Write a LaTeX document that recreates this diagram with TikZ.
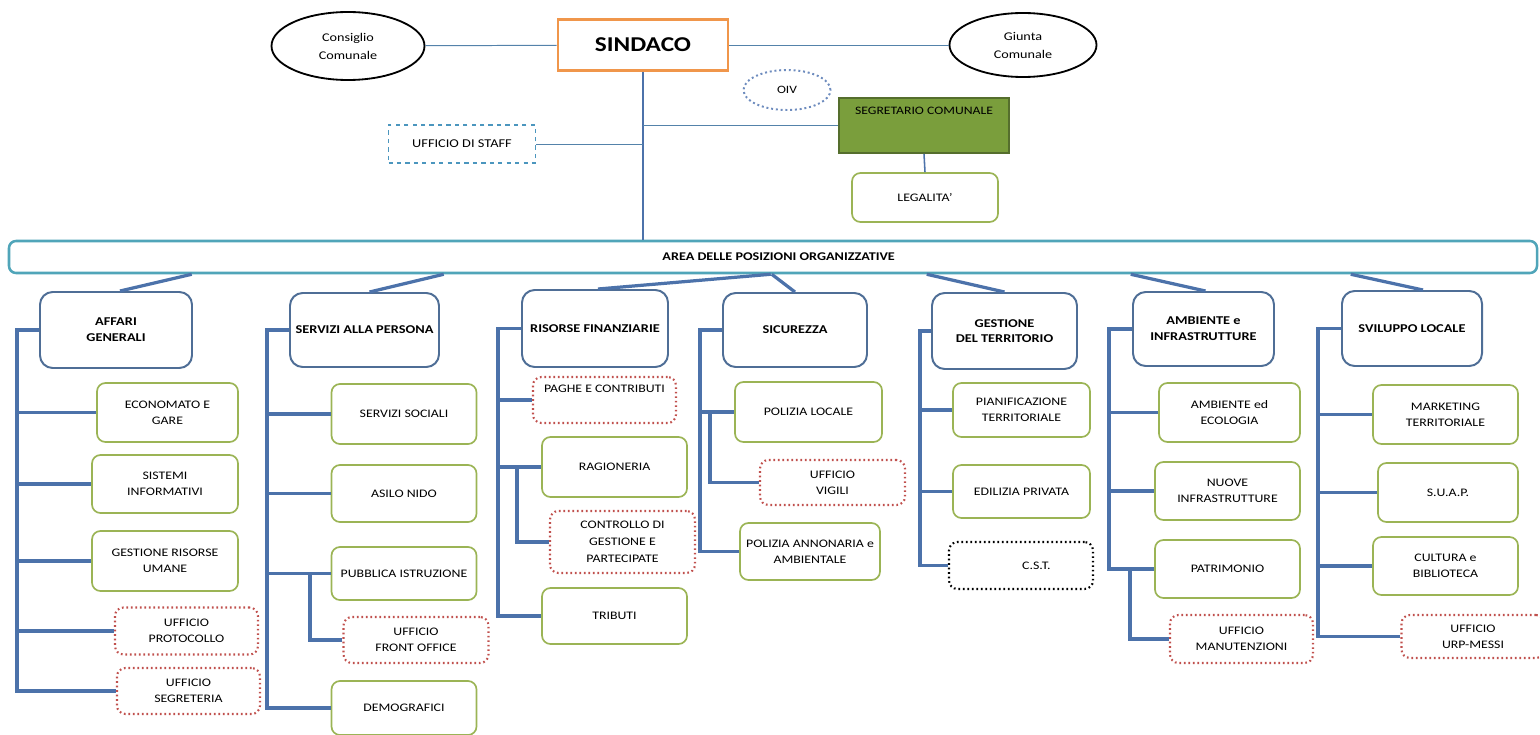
\documentclass[tikz,border=0pt]{standalone}
\usepackage{fontspec}
\setmainfont{Carlito}[FakeStretch=1.2]
\usetikzlibrary{shapes.geometric,calc}

\definecolor{hdrblue}{RGB}{79,110,150}
\definecolor{linkblue}{RGB}{76,114,170}
\definecolor{topblue}{RGB}{84,130,170}
\definecolor{unitgreen}{RGB}{155,180,85}
\definecolor{dotred}{RGB}{192,80,77}
\definecolor{barteal}{RGB}{80,165,185}
\definecolor{sindorange}{RGB}{240,150,75}
\definecolor{segrfill}{RGB}{122,158,60}
\definecolor{segrline}{RGB}{85,110,45}
\definecolor{oivblue}{RGB}{110,140,190}
\definecolor{staffblue}{RGB}{75,150,190}

\tikzset{
  sz/.style 2 args={minimum width=#1*0.025cm, minimum height=#2*0.025cm},
  organ/.style={ellipse, draw=black, line width=1.3pt, align=center, inner sep=0pt,
    font=\fontsize{8.4}{12.8}\selectfont},
  hdr/.style={draw=hdrblue, line width=1.4pt, rounded corners=9pt, align=center,
    inner sep=1pt, font=\fontsize{8.5}{11.2}\selectfont\bfseries},
  unit/.style={draw=unitgreen, line width=1.2pt, rounded corners=6pt, align=center,
    inner sep=1pt, font=\fontsize{8.2}{11.5}\selectfont},
  office/.style={unit, draw=dotred, dotted, line width=1.5pt},
  trunk/.style={draw=linkblue, line width=2.3pt},
  thin/.style={draw=topblue, line width=0.7pt},
  stem/.style={draw=linkblue, line width=1.1pt},
}

\begin{document}
\begin{tikzpicture}[x=0.025cm, y=-0.025cm]
    \useasboundingbox (0,0) rectangle (1540,735);

    % vertice
    \node[organ, sz={153}{68}] at (348,46)(cons){Consiglio\\Comunale};
    \node[draw=sindorange, line width=2pt, sz={170}{51}, font=\fontsize{15}{18}\selectfont\bfseries] at (643,45)(sind){SINDACO};
    \node[organ, sz={147}{64}] at (1023,45)(giun){Giunta\\Comunale};
    \node[ellipse, draw=oivblue, dotted, line width=1.4pt, sz={87}{40}, inner sep=0pt, font=\fontsize{8}{9}\selectfont] at (787,90)(oiv){OIV};
    \node[draw=staffblue, dashed, line width=1.3pt, sz={147}{38}, font=\fontsize{8.5}{10}\selectfont] at (462,144)(staff){UFFICIO DI STAFF};
    \node[fill=segrfill, draw=segrline, line width=1.2pt, sz={170}{55},
      label={[anchor=north, inner sep=0pt, yshift=-7pt, font=\fontsize{8.1}{9}\selectfont]north:SEGRETARIO COMUNALE}] at (924,125.5)(segr){};
    \node[unit, sz={146}{49}] at (925,197.5)(legal){LEGALITA'};
    \node[draw=barteal, line width=1.8pt, rounded corners=5pt, sz={1528}{32}, font=\fontsize{8.4}{10}\selectfont\bfseries] at (773,257)(bar){\hspace*{8pt}AREA DELLE  POSIZIONI ORGANIZZATIVE};

    \draw[thin] (cons) -- (sind);
    \draw[thin] (sind) -- (giun);
    \draw[stem] (sind.south) -- (sind.south |- bar.north);
    \draw[thin] (staff.east) -- (staff.east -| sind.south);
    \draw[thin] (segr.west -| sind.south) -- (segr.west);
    \draw[stem] (segr.south) -- (legal.north);

    % aree
    \node[hdr, sz={152}{76}] at (116,330)(ag){AFFARI\\GENERALI};
    \node[hdr, sz={149}{74}] at (364.5,330)(sp){SERVIZI ALLA PERSONA};
    \node[hdr, sz={146}{77}] at (595,328.5)(rf){RISORSE FINANZIARIE};
    \node[hdr, sz={144}{74}] at (795,330)(sic){SICUREZZA};
    \node[hdr, sz={145}{76}] at (1004.5,331)(gt){GESTIONE\\DEL TERRITORIO};
    \node[hdr, sz={141}{74}] at (1203.5,329)(ai){AMBIENTE e\\INFRASTRUTTURE};
    \node[hdr, sz={140}{75}] at (1412,328.5)(sl){SVILUPPO LOCALE};

    \draw[trunk] ($(bar.south west)+(184,0)$) -- ($(ag.north)+(4,0)$);
    \draw[trunk] ($(bar.south west)+(436,0)$) -- ($(sp.north)+(5,0)$);
    \draw[trunk] ($(bar.south west)+(763,0)$) -- ($(rf.north)+(3,0)$);
    \draw[trunk] ($(bar.south west)+(764,0)$) -- (sic.north);
    \draw[trunk] ($(bar.south west)+(919,0)$) -- (gt.north);
    \draw[trunk] ($(bar.south west)+(1123,0)$) -- ($(ai.north)+(2,0)$);
    \draw[trunk] ($(bar.south west)+(1343,0)$) -- ($(sl.north)+(11,0)$);

    % affari generali
    \node[unit, sz={141}{59}] at (167.5,412.5)(ag1){ECONOMATO E\\GARE};
    \node[unit, sz={146}{58}] at (165,484)(ag2){SISTEMI\\INFORMATIVI};
    \node[unit, sz={146}{60}] at (165,561)(ag3){GESTIONE RISORSE\\UMANE};
    \node[office, sz={143}{47}] at (186.5,631)(ag4){UFFICIO\\PROTOCOLLO};
    \node[office, sz={143}{46}] at (188.5,691)(ag5){UFFICIO\\SEGRETERIA};
    \coordinate (t1) at (17,330);
    \draw[trunk] (ag.west) -- (t1) |- (ag5.west);
    \draw[trunk] (t1 |- ag1.west) -- (ag1.west);
    \draw[trunk] (t1 |- ag2.west) -- (ag2.west);
    \draw[trunk] (t1 |- ag3.west) -- (ag3.west);
    \draw[trunk] (t1 |- ag4.west) -- (ag4.west);

    % servizi alla persona
    \node[unit, sz={145}{60}] at (404,414)(sp1){SERVIZI SOCIALI};
    \node[unit, sz={145}{57}] at (404,493.5)(sp2){ASILO NIDO};
    \node[unit, sz={145}{53}] at (404,573.5)(sp3){PUBBLICA  ISTRUZIONE};
    \node[office, sz={145}{46}] at (416,640)(sp4){UFFICIO\\FRONT OFFICE};
    \node[unit, sz={145}{54}] at (404,708)(sp5){DEMOGRAFICI};
    \coordinate (t2) at (267,330);
    \coordinate (u2) at (310,573.5);
    \draw[trunk] (sp.west) -- (t2) |- (sp5.west);
    \draw[trunk] (t2 |- sp1.west) -- (sp1.west);
    \draw[trunk] (t2 |- sp2.west) -- (sp2.west);
    \draw[trunk] (t2 |- sp3.west) -- (sp3.west);
    \draw[trunk] (u2) |- (sp4.west);

    % risorse finanziarie
    \node[office, sz={143}{46}] at (604.5,400)(rf1){PAGHE E CONTRIBUTI\\[4pt]};
    \node[unit, sz={145}{60}] at (614.5,467)(rf2){RAGIONERIA};
    \node[office, sz={145}{62}, font=\fontsize{8.2}{12}\selectfont] at (622.5,542)(rf3){CONTROLLO  DI\\GESTIONE E\\PARTECIPATE};
    \node[unit, sz={145}{56}] at (614.5,616)(rf4){TRIBUTI};
    \coordinate (t3) at (498,328.5);
    \coordinate (u3) at (517,467);
    \draw[trunk] (rf.west) -- (t3) |- (rf4.west);
    \draw[trunk] (t3 |- rf1.west) -- (rf1.west);
    \draw[trunk] (t3 |- rf2.west) -- (rf2.west);
    \draw[trunk] (u3) |- (rf3.west);

    % sicurezza
    \node[unit, sz={147}{60}] at (808.5,412)(sic1){POLIZIA LOCALE};
    \node[office, sz={145}{45}] at (832.5,482.5)(sic2){UFFICIO\\VIGILI};
    \node[unit, sz={140}{57}] at (810,551.5)(sic3){POLIZIA ANNONARIA e\\AMBIENTALE};
    \coordinate (t4) at (700,330);
    \coordinate (u4) at (710,412);
    \draw[trunk] (sic.west) -- (t4) |- (sic3.west);
    \draw[trunk] (t4 |- sic1.west) -- (sic1.west);
    \draw[trunk] (u4) |- (sic2.west);

    % gestione del territorio
    \node[unit, sz={137}{54}] at (1021.5,410)(gt1){PIANIFICAZIONE\\TERRITORIALE};
    \node[unit, sz={137}{53}] at (1021.5,491.5)(gt2){EDILIZIA PRIVATA};
    \node[office, draw=black, sz={144}{47}] at (1021,565.5)(gt3){\hspace*{22pt}C.S.T.};
    \coordinate (t5) at (920,331);
    \draw[trunk] (gt.west) -- (t5) |- (gt3.west);
    \draw[trunk] (t5 |- gt1.west) -- (gt1.west);
    \draw[trunk] (t5 |- gt2.west) -- (gt2.west);

    % ambiente e infrastrutture
    \node[unit, sz={141}{59}] at (1229.5,412.5)(ai1){AMBIENTE ed\\ECOLOGIA};
    \node[unit, sz={145}{58}] at (1227.5,491)(ai2){NUOVE\\INFRASTRUTTURE};
    \node[unit, sz={145}{58}] at (1227.5,569)(ai3){PATRIMONIO};
    \node[office, sz={143}{48}] at (1241.5,639)(ai4){UFFICIO\\MANUTENZIONI};
    \coordinate (t6) at (1109,329);
    \coordinate (u6) at (1130,569);
    \draw[trunk] (ai.west) -- (t6) |- (ai3.west);
    \draw[trunk] (t6 |- ai1.west) -- (ai1.west);
    \draw[trunk] (t6 |- ai2.west) -- (ai2.west);
    \draw[trunk] (u6) |- (ai4.west);

    % sviluppo locale
    \node[unit, sz={145}{59}] at (1445.5,414.5)(sl1){MARKETING\\TERRITORIALE};
    \node[unit, sz={140}{59}] at (1448,492.5)(sl2){S.U.A.P.};
    \node[unit, sz={145}{58}] at (1445.5,566)(sl3){CULTURA  e\\BIBLIOTECA};
    \node[office, sz={143}{43}] at (1473,636.5)(sl4){UFFICIO\\URP-MESSI};
    \coordinate (t7) at (1318,328.5);
    \draw[trunk] (sl.west) -- (t7) |- (sl4.west);
    \draw[trunk] (t7 |- sl1.west) -- (sl1.west);
    \draw[trunk] (t7 |- sl2.west) -- (sl2.west);
    \draw[trunk] (t7 |- sl3.west) -- (sl3.west);
\end{tikzpicture}
\end{document}
